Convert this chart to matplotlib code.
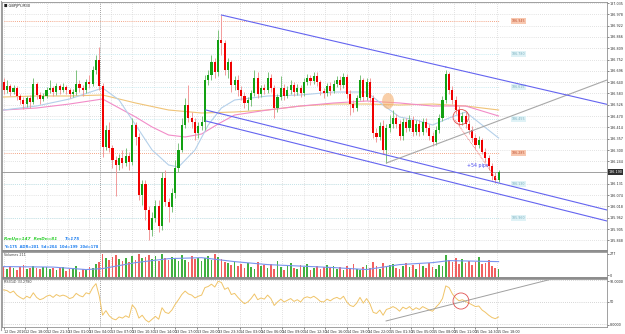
import numpy as np
import matplotlib
matplotlib.use("Agg")
import matplotlib.pyplot as plt
from matplotlib.patches import Ellipse
import matplotlib.transforms as mtransforms

# ---- data (GBPJPY, M30) ----
first_open = 186.640
closes = [186.600, 186.620, 186.590, 186.610, 186.570, 186.550, 186.530, 186.560, 186.540, 186.630,
          186.575, 186.555, 186.570, 186.600, 186.610, 186.590, 186.620, 186.600, 186.615, 186.600,
          186.580, 186.590, 186.630, 186.610, 186.600, 186.640, 186.630, 186.700, 186.750, 186.620,
          186.315, 186.400, 186.310, 186.250, 186.225, 186.260, 186.235, 186.270, 186.240, 186.425,
          186.365, 186.075, 186.130, 186.000, 185.900, 185.960, 186.020, 185.920, 186.160, 186.040,
          186.015, 186.085, 186.210, 186.300, 186.425, 186.525, 186.460, 186.440, 186.385, 186.420,
          186.440, 186.650, 186.675, 186.740, 186.690, 186.850, 186.835, 186.700, 186.740, 186.625,
          186.650, 186.600, 186.570, 186.535, 186.550, 186.585, 186.660, 186.580, 186.610, 186.600,
          186.660, 186.610, 186.510, 186.565, 186.610, 186.570, 186.600, 186.625, 186.590, 186.610,
          186.585, 186.640, 186.660, 186.645, 186.670, 186.640, 186.595, 186.585, 186.620, 186.595,
          186.630, 186.650, 186.625, 186.665, 186.580, 186.530, 186.510, 186.560, 186.650, 186.565,
          186.640, 186.560, 186.385, 186.365, 186.420, 186.300, 186.410, 186.430, 186.460, 186.430,
          186.370, 186.440, 186.410, 186.450, 186.390, 186.430, 186.390, 186.440, 186.410, 186.370,
          186.340, 186.400, 186.460, 186.550, 186.680, 186.600, 186.550, 186.500, 186.440, 186.470,
          186.430, 186.400, 186.360, 186.325, 186.350, 186.290, 186.260, 186.220, 186.170, 186.150,
          186.190]
highs = [186.660, 186.650, 186.630, 186.625, 186.620, 186.580, 186.565, 186.570, 186.575, 186.660,
         186.640, 186.590, 186.585, 186.615, 186.650, 186.620, 186.635, 186.630, 186.635, 186.625,
         186.610, 186.605, 186.700, 186.650, 186.625, 186.655, 186.675, 186.720, 186.775, 186.815,
         186.635, 186.425, 186.440, 186.325, 186.270, 186.280, 186.300, 186.310, 186.290, 186.460,
         186.440, 186.385, 186.150, 186.150, 186.020, 185.990, 186.050, 186.050, 186.190, 186.200,
         186.060, 186.110, 186.250, 186.335, 186.460, 186.560, 186.625, 186.490, 186.460, 186.440,
         186.470, 186.675, 186.700, 186.775, 186.760, 186.900, 186.975, 186.850, 186.760, 186.750,
         186.670, 186.675, 186.620, 186.590, 186.565, 186.600, 186.700, 186.690, 186.625, 186.630,
         186.690, 186.680, 186.625, 186.580, 186.670, 186.630, 186.620, 186.650, 186.640, 186.630,
         186.625, 186.660, 186.680, 186.675, 186.690, 186.690, 186.650, 186.610, 186.635, 186.640,
         186.650, 186.670, 186.670, 186.685, 186.680, 186.600, 186.550, 186.575, 186.675, 186.660,
         186.660, 186.660, 186.575, 186.410, 186.440, 186.450, 186.430, 186.475, 186.500, 186.480,
         186.450, 186.460, 186.460, 186.475, 186.470, 186.450, 186.450, 186.460, 186.460, 186.430,
         186.390, 186.420, 186.480, 186.570, 186.700, 186.690, 186.620, 186.570, 186.520, 186.490,
         186.490, 186.450, 186.420, 186.380, 186.370, 186.360, 186.310, 186.275, 186.235, 186.190,
         186.200]
lows = [186.580, 186.585, 186.570, 186.580, 186.550, 186.530, 186.505, 186.515, 186.510, 186.530,
        186.555, 186.530, 186.545, 186.560, 186.585, 186.570, 186.575, 186.580, 186.590, 186.580,
        186.560, 186.565, 186.575, 186.590, 186.570, 186.585, 186.610, 186.620, 186.680, 186.600,
        186.265, 186.300, 186.290, 186.210, 186.070, 186.200, 186.210, 186.220, 186.200, 186.225,
        186.325, 186.050, 186.025, 185.950, 185.850, 185.870, 185.940, 185.890, 185.900, 186.020,
        185.940, 185.990, 186.060, 186.190, 186.290, 186.410, 186.440, 186.410, 186.350, 186.360,
        186.400, 186.400, 186.625, 186.650, 186.660, 186.670, 186.775, 186.675, 186.660, 186.590,
        186.600, 186.570, 186.550, 186.510, 186.500, 186.520, 186.570, 186.560, 186.565, 186.580,
        186.585, 186.590, 186.460, 186.490, 186.550, 186.550, 186.560, 186.580, 186.570, 186.575,
        186.565, 186.570, 186.625, 186.625, 186.630, 186.620, 186.575, 186.560, 186.570, 186.575,
        186.585, 186.615, 186.600, 186.610, 186.560, 186.475, 186.490, 186.495, 186.550, 186.545,
        186.550, 186.540, 186.360, 186.340, 186.350, 186.280, 186.235, 186.390, 186.410, 186.410,
        186.350, 186.350, 186.390, 186.395, 186.370, 186.375, 186.370, 186.375, 186.390, 186.350,
        186.320, 186.325, 186.385, 186.445, 186.535, 186.580, 186.530, 186.480, 186.420, 186.425,
        186.410, 186.380, 186.340, 186.305, 186.310, 186.280, 186.240, 186.200, 186.150, 186.135,
        186.140]
volumes = [110, 90, 120, 100, 80, 110, 130, 90, 100, 120, 95, 85, 105, 110, 90, 100, 80, 95, 110, 70,
           85, 100, 120, 60, 90, 75, 110, 95, 140, 160,
           240, 200, 180, 210, 230, 190, 170, 200, 160, 220, 180, 240, 200, 210, 230, 190, 220, 170,
           240, 200, 180, 210, 190, 170, 230, 180, 160, 220, 190, 200, 170,
           200, 220, 180, 240, 210, 190, 160, 150, 130, 170, 120, 140, 100, 150, 110, 90, 160, 120,
           130, 100, 140, 90, 170, 110, 80, 120, 150, 100, 90, 130, 110, 140, 80, 100, 120, 90, 110,
           130, 100, 120,
           90, 110, 80, 120, 100, 140, 90, 80, 110, 130, 100, 160, 120, 90, 150, 110, 130, 140, 100,
           90, 120, 150, 110, 130, 90, 140, 120, 100, 150, 110, 90, 130, 120,
           230, 180, 160, 200, 140, 190, 150, 170, 130, 160, 210, 140, 150, 180, 120, 100, 90]
rsi = [71, 70, 66, 69, 62, 58, 55, 60, 57, 66, 58, 54, 56, 60, 62, 58, 63, 60, 62, 60,
       56, 58, 65, 61, 59, 66, 64, 75, 82, 60, 27, 35, 26, 21, 19, 24, 22, 26, 23, 45,
       38, 22, 27, 19, 15, 20, 25, 20, 40, 32, 30, 36, 46, 54, 63, 69, 64, 62, 57, 60,
       62, 75, 77, 81, 76, 86, 84, 72, 75, 63, 65, 58, 52, 47, 50, 56, 64, 54, 57, 55,
       62, 56, 44, 50, 55, 50, 53, 56, 51, 54, 50, 57, 59, 57, 60, 56, 51, 50, 55, 52,
       56, 58, 55, 60, 50, 44, 42, 48, 58, 48, 56, 47, 32, 30, 36, 27, 37, 39, 42, 39,
       34, 41, 38, 42, 36, 40, 37, 42, 39, 36, 34, 41, 47, 56, 78, 75, 64, 57, 52, 54,
       51, 48, 45, 42, 43, 36, 32, 27, 23, 21, 24]

# moving averages, read at a few bars
ma_slow_idx = [0, 10, 20, 30, 40, 50, 60, 70, 80, 90, 100, 110, 120, 130, 140, 150]
ma_slow = [186.565, 186.570, 186.570, 186.575, 186.535, 186.500, 186.485, 186.490, 186.500, 186.520,
           186.530, 186.530, 186.525, 186.530, 186.520, 186.500]
ma_mid_idx = [0, 10, 20, 30, 40, 45, 50, 55, 60, 65, 70, 80, 90, 100, 110, 120, 130, 140, 150]
ma_mid = [186.500, 186.510, 186.530, 186.555, 186.465, 186.415, 186.375, 186.365, 186.380, 186.430,
          186.475, 186.500, 186.520, 186.535, 186.545, 186.535, 186.520, 186.520, 186.470]
ma_fast_idx = [0, 10, 20, 30, 35, 40, 45, 50, 53, 58, 62, 66, 70, 80, 90, 100, 110, 115, 120, 125,
               130, 135, 140, 145, 150]
ma_fast = [186.500, 186.520, 186.555, 186.610, 186.550, 186.425, 186.300, 186.225, 186.215, 186.300,
           186.425, 186.510, 186.550, 186.570, 186.575, 186.590, 186.590, 186.525, 186.465, 186.450,
           186.425, 186.460, 186.490, 186.425, 186.360]
vol_ma_idx = [0, 15, 25, 30, 40, 50, 60, 70, 80, 100, 110, 120, 130, 135, 150]
vol_ma = [110, 105, 80, 90, 150, 190, 200, 160, 130, 100, 80, 130, 150, 170, 160]

# levels drawn on the chart (price, colour kind)
level_prices = [186.945, 186.780, 186.615, 186.455, 186.285, 186.130, 185.960]
level_kinds = ["o", "c", "c", "c", "o", "c", "c"]

# trend objects: (bar, price) anchors
chan_top = [(66, 186.975), (134, 186.715)]
chan_low1 = [(61.3, 186.500), (182.85, 186.000)]
chan_low2 = [(61.3, 186.445), (182.85, 185.945)]
trend_gray = [(116, 186.235), (182.85, 186.650)]
trend_pink = [(136.8, 186.450), (149.5, 186.150)]
rsi_trend = [(115.9, 17), (168.6, 93.5)]

W, H = 625, 334
fig = plt.figure(figsize=(W / 100, H / 100), dpi=100)
fig.patch.set_facecolor("white")


def px_axes(x0, y0, x1, y1):
    return fig.add_axes([x0 / W, 1 - y1 / H, (x1 - x0) / W, (y1 - y0) / H])


ax = px_axes(2, 2, 607, 250)
axv = px_axes(2, 251.5, 607, 277.5)
axr = px_axes(2, 279, 607, 327)

n = len(closes)
xs = np.arange(n)
opens = [first_open] + closes[:-1]
up = np.array(closes) >= np.array(opens)
xlim = (-0.485, 182.85)

tick_x = np.arange(0, 152, 6.5)
grid_kw = dict(color="#c8c8c8", lw=0.5, ls=(0, (1, 2)))
small = 2.4

for a in (ax, axv, axr):
    a.set_xlim(*xlim)
    for s in a.spines.values():
        s.set_color("#909090")
        s.set_linewidth(0.6)
    a.yaxis.tick_right()
    a.tick_params(axis="y", labelsize=small, length=1.2, width=0.4, pad=0.6, colors="#303030")
    a.set_xticks([])
    for tx in tick_x:
        a.axvline(tx, **grid_kw, zorder=0)
    a.axvline(29.2, color="#808080", lw=0.6, ls=(0, (1, 1.5)), zorder=1)

# ---- main panel ----
ax.set_ylim(185.800, 187.040)
pticks = np.round(187.035 - 0.0565 * np.arange(22), 3)
ax.set_yticks(pticks)
ax.set_yticklabels([f"{p:.3f}" for p in pticks])
for p in pticks:
    ax.axhline(p, **grid_kw, zorder=0)

for p, k in zip(level_prices, level_kinds):
    col = "#f08860" if k == "o" else "#b8e4ec"
    ax.plot([0, 150], [p, p], color=col, lw=0.6, ls=(0, (1, 1.5)), zorder=1)
    ax.text(156, p, f"{p:.3f}", fontsize=2.3, color="#c05030" if k == "o" else "#7ab0c0",
            ha="center", va="center",
            bbox=dict(fc="#f8c8b0" if k == "o" else "#dff2f6", ec="none", pad=0.5), zorder=3)

ax.plot(ma_slow_idx, ma_slow, color="#f0c478", lw=0.8, zorder=2)
ax.plot(ma_mid_idx, ma_mid, color="#f28cc8", lw=0.8, zorder=2)
ax.plot(ma_fast_idx, ma_fast, color="#b4d0ea", lw=0.8, zorder=2)

wick_cols = np.where(up, "#7cc27c", "#f29a9a")
ax.vlines(xs, lows, highs, colors=wick_cols, lw=0.7, zorder=3)
body_h = np.array(closes) - np.array(opens)
body_h = np.where(np.abs(body_h) < 0.002, 0.002, body_h)
ax.bar(xs, body_h, bottom=opens, width=0.62, color=np.where(up, "#12a012", "#f00000"),
       lw=0, zorder=4)

ax.axhline(closes[-1], color="#a0a0a0", lw=0.7, zorder=2)
ax.text(1.002, closes[-1], f"{closes[-1]:.3f}", transform=mtransforms.blended_transform_factory(
    ax.transAxes, ax.transData), fontsize=small, color="white", va="center", ha="left",
    bbox=dict(fc="#303030", ec="none", pad=0.4), zorder=6, clip_on=False)

for line, col in ((chan_top, "#6464f0"), (chan_low1, "#6464f0"),
                  (chan_low2, "#6464f0"), (trend_gray, "#a8a8a8")):
    (x0, y0), (x1, y1) = line
    ax.plot([x0, x1], [y0, y1], color=col, lw=0.8, zorder=5)
(x0, y0), (x1, y1) = chan_top
ax.plot([x1, xlim[1]], [y1, y1 + (y1 - y0) / (x1 - x0) * (xlim[1] - x1)], color="#6464f0",
        lw=0.8, zorder=5)
(x0, y0), (x1, y1) = trend_pink
ax.plot([x0, x1], [y0, y1], color="#f07070", lw=0.6, ls=(0, (1, 1)), zorder=5)

ax.add_patch(Ellipse((116.5, 186.545), 3.6, 0.08, color="#f5b070", alpha=0.6, lw=0, zorder=6))
ax.add_patch(Ellipse((138.6, 186.465), 4.8, 0.075, fill=False, ec="#e05050", lw=0.6, zorder=6))
ax.text(140.5, 186.225, "+54 pips", fontsize=3.4, color="#4848f0", ha="left", va="center",
        zorder=7)

ax.text(0.004, 0.993, "\u25a0 GBPJPY,M30", transform=ax.transAxes, fontsize=2.6,
        color="#202020", va="top", ha="left")
ax.text(0.003, 0.045, "RmUp=147  RmDn=81", transform=ax.transAxes, fontsize=3.1,
        color="#30d030", style="italic", weight="bold", va="center")
ax.text(0.104, 0.045, "T=175", transform=ax.transAxes, fontsize=3.1, color="#2080f0",
        style="italic", weight="bold", va="center")
ax.text(0.003, 0.012, "Y=175  ADR=201  5d=204  10d=199  20d=178", transform=ax.transAxes,
        fontsize=2.6, color="#2080f0", weight="bold", va="center")

# ---- volume panel ----
axv.set_ylim(0, 262)
axv.bar(xs, volumes, width=0.5, color=np.where(up, "#40b040", "#f06060"), lw=0, zorder=3)
axv.plot(vol_ma_idx, vol_ma, color="#7a94ee", lw=0.8, zorder=4)
axv.set_yticks([25, 240])
axv.set_yticklabels(["0", "277"])
axv.text(0.004, 0.93, "Volumes 211", transform=axv.transAxes, fontsize=small, color="#404040",
         va="top")

# ---- RSI panel ----
axr.set_ylim(6.5, 90)
for lv in (88, 50, 12):
    axr.axhline(lv, color="#b0b0b0", lw=0.5, ls=(0, (1, 2)), zorder=1)
axr.set_yticks([86, 50, 10])
axr.set_yticklabels(["92.0000", "50", "8.0000"])
axr.plot(xs, rsi, color="#f0c468", lw=0.7, zorder=3)
(x0, y0), (x1, y1) = rsi_trend
axr.plot([x0, x1], [y0, y1], color="#a0a0a0", lw=0.7, zorder=4)
axr.add_patch(Ellipse((138.6, 51.7), 4.8, 28, fill=False, ec="#e05050", lw=0.6, zorder=5))
axr.text(0.004, 0.97, "RSI(14) 33.2780", transform=axr.transAxes, fontsize=small, color="#404040",
         va="top")

# time axis labels under the RSI panel
axr.set_xticks(tick_x)
start = np.datetime64("2016-12-12T15:00")
labels = []
for k, tx in enumerate(tick_x):
    t = start + np.timedelta64(int(round(tx)) * 30, "m")
    d = t.astype(object)
    labels.append("12 Dec 2016" if k == 0 else d.strftime("%d Dec %H:%M").lstrip("0"))
axr.set_xticklabels(labels)
axr.tick_params(axis="x", labelsize=small, length=1.2, width=0.4, pad=0.8, colors="#303030")
for lab in axr.get_xticklabels():
    lab.set_ha("left")

# panel separators
for yy in (250.8, 278.2):
    fig.add_artist(plt.Line2D([2 / W, 607 / W], [1 - yy / H, 1 - yy / H], color="#8c8c8c",
                              lw=1.4, transform=fig.transFigure))
fig.add_artist(plt.Line2D([1.5 / W, 1.5 / W], [1 - 330 / H, 1 - 1 / H], color="#a0a0a0", lw=0.8,
                          transform=fig.transFigure))

fig.savefig("out.png", dpi=100)
